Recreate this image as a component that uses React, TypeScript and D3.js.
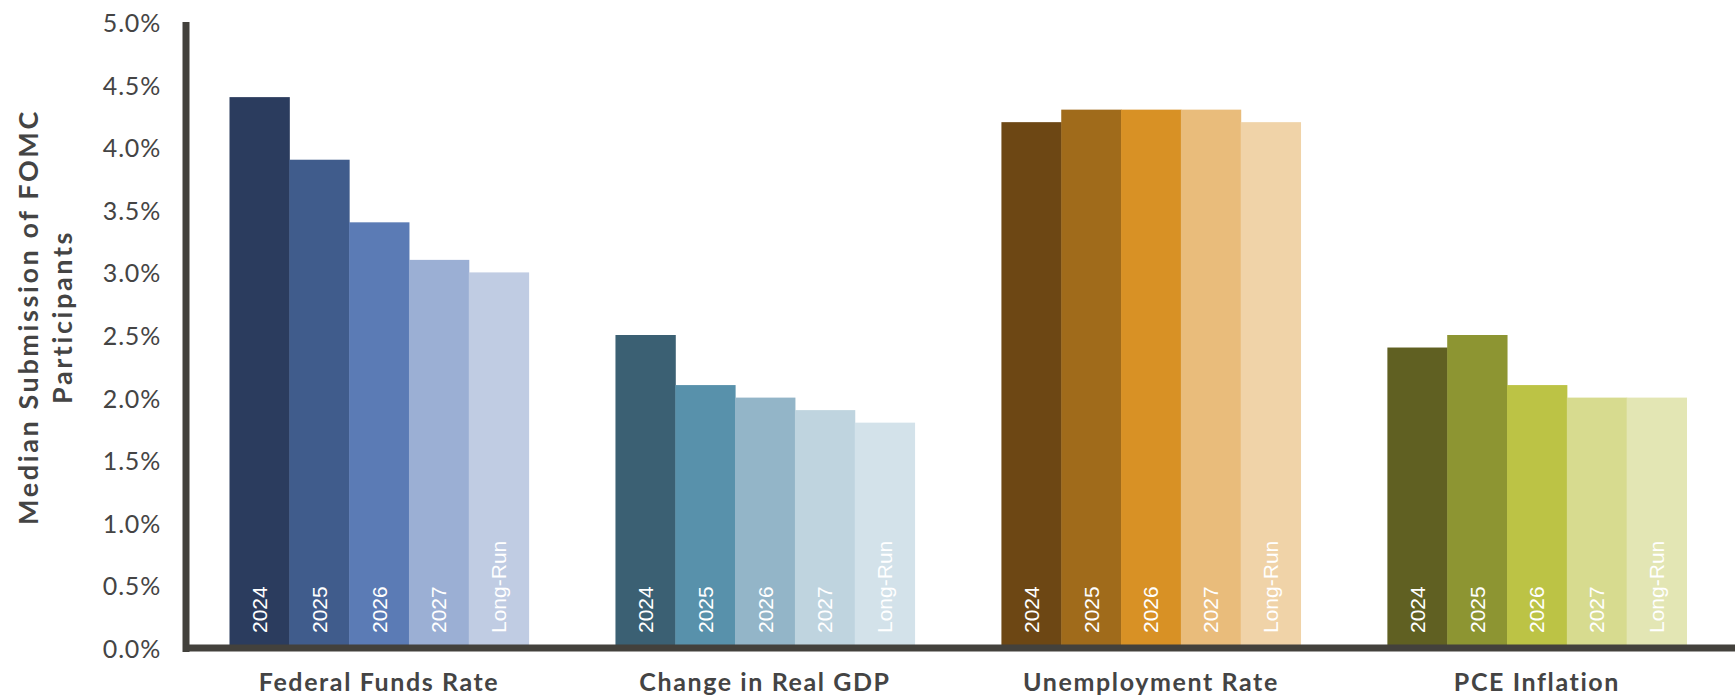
import React from "react";
import * as d3 from "d3";

const categories = ["Federal Funds Rate", "Change in Real GDP", "Unemployment Rate", "PCE Inflation"];
const periods = ["2024", "2025", "2026", "2027", "Long-Run"];
const fedFunds = [4.4, 3.9, 3.4, 3.1, 3.0];
const realGdp = [2.5, 2.1, 2.0, 1.9, 1.8];
const unemployment = [4.2, 4.3, 4.3, 4.3, 4.2];
const pceInflation = [2.4, 2.5, 2.1, 2.0, 2.0];
const yTicks = [0, 0.5, 1, 1.5, 2, 2.5, 3, 3.5, 4, 4.5, 5];
const yTitle = ["Median Submission of FOMC", "Participants"];

const palettes = [
  ["#2b3c5e", "#405c8c", "#5b7bb5", "#9bafd4", "#c0cce3"],
  ["#3b6073", "#5891ab", "#93b5c8", "#bfd4df", "#d3e2ea"],
  ["#6d4714", "#a06b1b", "#d89125", "#e9bc7b", "#f0d3a8"],
  ["#606022", "#8d9532", "#bcc345", "#d7db8f", "#e3e6b4"],
];

const seriesByCategory = [fedFunds, realGdp, unemployment, pceInflation];

const W = 1735;
const H = 695;
const axisX = 186;
const zeroY = 648;
const topY = 22;
const rightX = 1730;
const font = "Lato, 'Open Sans', 'Noto Sans', sans-serif";
const barFont = "'Liberation Sans', Arial, sans-serif";
const axisColor = "#43413c";
const textColor = "#444444";

export default function App() {
  const y = d3.scaleLinear().domain([0, 5]).range([zeroY, topY]);
  const x0 = d3
    .scaleBand<string>()
    .domain(categories)
    .range([axisX, rightX])
    .paddingInner(0.225)
    .paddingOuter(0.1127);
  const x1 = d3.scaleBand<string>().domain(periods).range([0, x0.bandwidth()]).padding(0);
  const fmt = d3.format(".1f");

  return (
    <svg
      width={W}
      height={H}
      style={{ position: "absolute", left: 0, top: 0, background: "#fff" }}
      fontFamily={font}
    >
      {/* bars */}
      {categories.map((cat, ci) => (
        <g key={cat} transform={`translate(${x0(cat)},0)`}>
          {periods.map((p, pi) => {
            const v = seriesByCategory[ci][pi];
            const bx = x1(p) as number;
            const bw = x1.bandwidth();
            return (
              <g key={p}>
                <rect
                  x={bx}
                  y={y(v)}
                  width={bw + 0.5}
                  height={zeroY - y(v)}
                  fill={palettes[ci][pi]}
                />
                <text
                  transform={`translate(${bx + bw / 2},${633}) rotate(-90)`}
                  textAnchor="start"
                  dominantBaseline="central"
                  fill="#ffffff"
                  fontSize={21}
                  fontFamily={barFont}
                  fontWeight={400}
                >
                  {p}
                </text>
              </g>
            );
          })}
          <text
            x={x0.bandwidth() / 2}
            y={691}
            textAnchor="middle"
            fill={textColor}
            fontSize={25}
            fontWeight={700}
            letterSpacing={1.6}
          >
            {cat}
          </text>
        </g>
      ))}

      {/* y axis */}
      <line x1={axisX} x2={axisX} y1={topY} y2={652} stroke={axisColor} strokeWidth={7} />
      {yTicks.map((t) => (
        <text
          key={t}
          x={161}
          y={y(t)}
          textAnchor="end"
          dominantBaseline="central"
          fill={textColor}
          fontSize={25}
          fontWeight={400}
          letterSpacing={0.8}
        >
          {fmt(t) + "%"}
        </text>
      ))}

      {/* x axis */}
      <line x1={axisX - 3} x2={W} y1={zeroY} y2={zeroY} stroke={axisColor} strokeWidth={7} />

      {/* y title */}
      <g transform={`translate(44,${317}) rotate(-90)`}>
        {yTitle.map((line, i) => (
          <text
            key={line}
            x={0}
            y={(i - 0.5) * 34}
            textAnchor="middle"
            dominantBaseline="central"
            fill={textColor}
            fontSize={27}
            fontWeight={700}
            letterSpacing={2.6}
          >
            {line}
          </text>
        ))}
      </g>
    </svg>
  );
}
